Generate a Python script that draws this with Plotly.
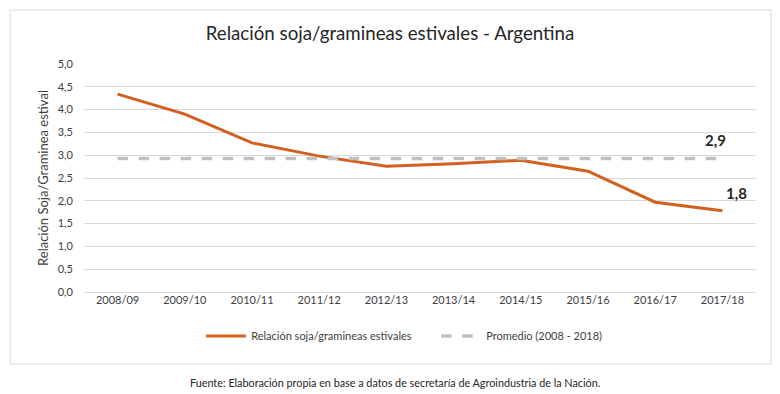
import plotly.graph_objects as go

categorias = ["2008/09", "2009/10", "2010/11", "2011/12", "2012/13",
              "2013/14", "2014/15", "2015/16", "2016/17", "2017/18"]
relacion = [4.34, 3.90, 3.27, 2.98, 2.76, 2.81, 2.89, 2.65, 1.97, 1.78]
promedio = [2.93] * len(categorias)

FONT = "Lato"
fig = go.Figure()
fig.add_trace(go.Scatter(x=categorias, y=relacion, mode="lines",
                         name="Relación soja/gramineas estivales",
                         line=dict(color="#D2611F", width=3)))
fig.add_trace(go.Scatter(x=categorias, y=promedio, mode="lines",
                         name="Promedio (2008 - 2018)",
                         line=dict(color="#C0C0C0", width=3.5, dash="dash")))

fig.add_annotation(x=categorias[-1], y=promedio[-1], text="<b>2,9</b>", showarrow=False,
                   xshift=-7, yshift=18, font=dict(family=FONT, size=15, color="#262626"))
fig.add_annotation(x=categorias[-1], y=relacion[-1], text="<b>1,8</b>", showarrow=False,
                   xshift=14, yshift=18, font=dict(family=FONT, size=15, color="#262626"))

fig.update_layout(
    width=780, height=394,
    margin=dict(l=84, r=24, t=64, b=102),
    paper_bgcolor="white", plot_bgcolor="white",
    separators=",.",
    font=dict(family=FONT, size=11, color="#404040"),
    title=dict(text="Relación soja/gramineas estivales - Argentina", x=0.5, xanchor="center",
               y=1 - 33 / 394, yanchor="middle",
               font=dict(family=FONT, size=18.7, color="#262626")),
    xaxis=dict(showgrid=False, showline=False, ticks="", tickfont=dict(size=11),
               range=[-0.5, 9.5]),
    yaxis=dict(range=[0, 5], dtick=0.5, tickformat=".1f", gridcolor="#D9D9D9",
               zeroline=True, zerolinecolor="#D9D9D9", zerolinewidth=1,
               showline=False, ticks="", ticklabelstandoff=10,
               title=dict(text="Relación Soja/Graminea estival", font=dict(size=13, color="#404040"),
                          standoff=6)),
    legend=dict(orientation="h", x=0.524, xanchor="center", y=-0.193, yanchor="middle",
                font=dict(size=11, color="#404040"), itemwidth=40, traceorder="normal",
                entrywidth=180, entrywidthmode="pixels"),
    showlegend=True,
)

fig.add_shape(type="rect", xref="paper", yref="paper",
              x0=-0.110, x1=1.0223, y0=-0.3158, y1=1.2368,
              line=dict(color="#D9D9D9", width=1), layer="below")
fig.add_annotation(xref="paper", yref="paper", x=0.463, y=-0.399, showarrow=False,
                   text="Fuente: Elaboración propia en base a datos de secretaría de Agroindustria de la Nación.",
                   font=dict(family=FONT, size=10.8, color="#262626"), yanchor="middle")

fig.write_html("out.html", config={"displayModeBar": False},
               post_script="document.body.style.margin='0';document.body.style.overflow='hidden';")
